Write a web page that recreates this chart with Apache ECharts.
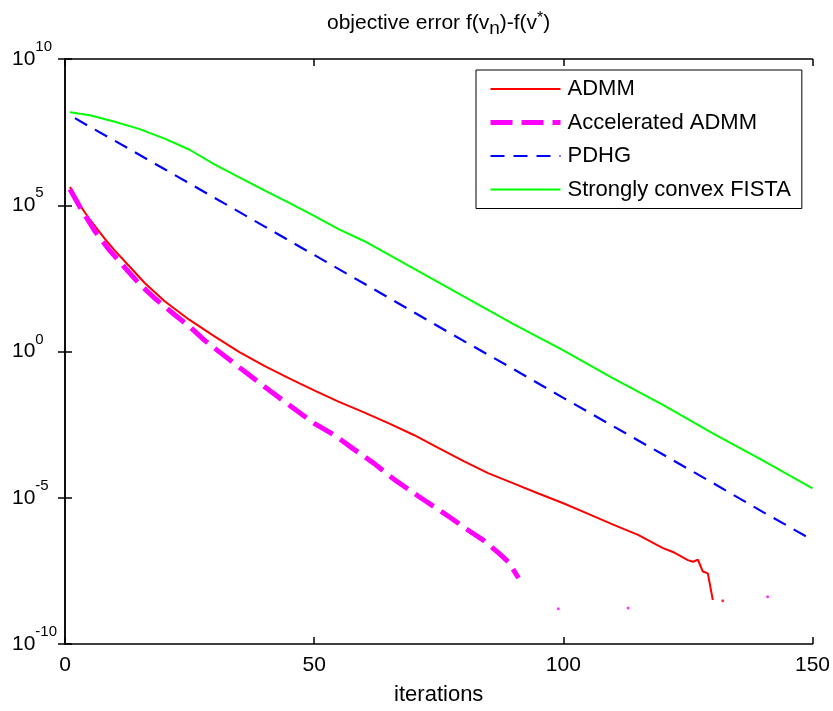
<!DOCTYPE html>
<html><head><meta charset="utf-8">
<script src="https://cdn.jsdelivr.net/npm/echarts@6/dist/echarts.min.js"></script>
<style>html,body{margin:0;padding:0;background:#fff}#c{width:833px;height:711px}</style>
</head><body><div id="c"></div>
<script>
// ---- data ----
const xTicks = [0, 50, 100, 150];
const yTickExponents = [-10, -5, 0, 5, 10];
const seriesNames = ['ADMM', 'Accelerated ADMM', 'PDHG', 'Strongly convex FISTA'];

const admmIter = [1, 3, 5, 8, 10, 13, 16, 20, 25, 30, 35, 40, 45, 50, 55, 60, 65, 70, 75, 80, 85, 90, 95, 100, 105, 110, 115, 120, 122, 124, 125, 126, 127, 128, 129, 130];
const admmErr = [4.2e5, 1.0e5, 3.2e4, 7.1e3, 2.8e3, 7.9e2, 2.2e2, 52, 12, 3.3, 0.95, 0.32, 0.12, 4.7e-2, 1.9e-2, 8.3e-3, 3.5e-3, 1.4e-3, 5.0e-4, 1.8e-4, 6.8e-5, 3.1e-5, 1.4e-5, 6.5e-6, 2.8e-6, 1.2e-6, 5.4e-7, 1.9e-7, 1.4e-7, 9.1e-8, 7.4e-8, 6.5e-8, 7.6e-8, 3.0e-8, 2.6e-8, 3.2e-9];
const admmDotIter = [132];
const admmDotErr = [3.0e-9];

const accIter = [1, 3, 6, 9, 12, 15, 18, 22, 25, 28, 32, 36, 41, 46, 50, 54, 58, 62, 66, 71, 76, 81, 84, 87, 89, 90, 91];
const accErr = [3.5e5, 8.7e4, 1.3e4, 2.8e3, 7.4e2, 2.0e2, 66, 18, 7.1, 2.4, 0.71, 0.21, 4.7e-2, 1.1e-2, 3.5e-3, 1.4e-3, 4.5e-4, 1.5e-4, 4.3e-5, 1.1e-5, 3.0e-6, 7.6e-7, 3.5e-7, 1.3e-7, 6.3e-8, 3.4e-8, 1.8e-8];
const accDotIter = [99, 113, 141];
const accDotErr = [1.6e-9, 1.7e-9, 4.1e-9];

const pdhgIter = [2, 5, 10, 20, 30, 40, 50, 60, 70, 80, 90, 100, 110, 120, 130, 140, 150];
const pdhgErr = [9.5e7, 4.8e7, 1.6e7, 1.7e6, 1.8e5, 1.9e4, 2.0e3, 2.1e2, 22, 2.3, 0.25, 2.6e-2, 2.8e-3, 3.0e-4, 3.2e-5, 3.3e-6, 3.6e-7];

const fistaIter = [1, 5, 10, 15, 20, 25, 30, 35, 40, 45, 50, 55, 60, 70, 80, 90, 100, 110, 120, 130, 140, 150];
const fistaErr = [1.5e8, 1.2e8, 7.2e7, 4.0e7, 1.9e7, 7.9e6, 2.5e6, 9.0e5, 3.2e5, 1.2e5, 4.3e4, 1.5e4, 6.0e3, 6.8e2, 76, 8.7, 1.1, 0.12, 1.5e-2, 1.6e-3, 1.9e-4, 2.1e-5];

// ---- chart ----
const FONT = '"Liberation Sans", Arial, sans-serif';
const zip = (xs, ys) => xs.map((x, i) => [x, ys[i]]);
const yMin = Math.pow(10, yTickExponents[0]);
const yMax = Math.pow(10, yTickExponents[yTickExponents.length - 1]);
const yStep = yTickExponents[1] - yTickExponents[0];
const xStep = xTicks[1] - xTicks[0];

const frameLine = { show: true, lineStyle: { color: '#000', width: 1.5 } };
const inTick = { show: true, inside: true, length: 7, lineStyle: { color: '#000', width: 1.5 } };

const chart = echarts.init(document.getElementById('c'), null, { renderer: 'canvas' });
chart.setOption({
  animation: false,
  backgroundColor: '#fff',
  title: {
    text: '{a|objective error f(v}{sub|n}{a|)-f(v}{sup|*}{a|)}',
    left: 327, top: 9, padding: 0,
    textStyle: {
      fontWeight: 'normal',
      rich: {
        a: { fontSize: 21, fontFamily: FONT, color: '#000', fontWeight: 'normal' },
        sub: { fontSize: 19, fontFamily: FONT, color: '#000', fontWeight: 'normal', padding: [10, 0, 0, 0] },
        sup: { fontSize: 16, fontFamily: FONT, color: '#000', fontWeight: 'normal', padding: [0, 0, 10, 0] }
      }
    }
  },
  grid: { left: 65, right: 20, top: 59, bottom: 67, containLabel: false },
  legend: {
    data: seriesNames,
    orient: 'vertical',
    left: 476, top: 70,
    padding: [8, 11, 8, 12],
    itemWidth: 70, itemHeight: 14, itemGap: 11.5,
    borderColor: '#000', borderWidth: 1, backgroundColor: '#fff',
    selectedMode: false,
    itemStyle: { opacity: 0 },
    lineStyle: { width: 'inherit', type: 'inherit' },
    textStyle: { fontSize: 22, fontFamily: FONT, color: '#000', lineHeight: 22, padding: [0, 0, 0, 2] }
  },
  xAxis: [
    {
      type: 'value', min: xTicks[0], max: xTicks[xTicks.length - 1], interval: xStep,
      position: 'bottom',
      name: 'iterations', nameLocation: 'middle', nameGap: 40,
      nameTextStyle: { fontSize: 22, fontFamily: FONT, color: '#000' },
      axisLine: frameLine, axisTick: inTick, splitLine: { show: false },
      axisLabel: { fontSize: 21, fontFamily: FONT, color: '#000', margin: 11 }
    },
    {
      type: 'value', min: xTicks[0], max: xTicks[xTicks.length - 1], interval: xStep,
      position: 'top',
      axisLine: frameLine, axisTick: inTick, splitLine: { show: false },
      axisLabel: { show: false }
    }
  ],
  yAxis: [
    {
      type: 'log', logBase: 10, min: yMin, max: yMax, interval: yStep,
      position: 'left',
      axisLine: frameLine, axisTick: inTick, splitLine: { show: false }, minorTick: { show: false },
      axisLabel: {
        align: 'left', margin: 53,
        formatter: v => '{b|10}{s|' + Math.round(Math.log10(v)) + '}',
        rich: {
          b: { fontSize: 21, fontFamily: FONT, color: '#000' },
          s: { fontSize: 15, fontFamily: FONT, color: '#000', padding: [0, 0, 24, 0] }
        }
      }
    },
    {
      type: 'log', logBase: 10, min: yMin, max: yMax, interval: yStep,
      position: 'right',
      axisLine: frameLine, axisTick: inTick, splitLine: { show: false },
      axisLabel: { show: false }
    }
  ],
  series: [
    { name: seriesNames[0], type: 'line', data: zip(admmIter, admmErr), symbol: 'none',
      lineStyle: { color: '#ff0000', width: 2 }, itemStyle: { color: '#ff0000' } },
    { name: seriesNames[1], type: 'line', data: zip(accIter, accErr), symbol: 'none',
      lineStyle: { color: '#ff00ff', width: 5, type: [22, 9] }, itemStyle: { color: '#ff00ff' } },
    { name: seriesNames[2], type: 'line', data: zip(pdhgIter, pdhgErr), symbol: 'none',
      lineStyle: { color: '#0000ff', width: 2.2, type: [14, 9] }, itemStyle: { color: '#0000ff' } },
    { name: seriesNames[3], type: 'line', data: zip(fistaIter, fistaErr), symbol: 'none',
      lineStyle: { color: '#00ff00', width: 2 }, itemStyle: { color: '#00ff00' } },
    { name: 'ADMM points', type: 'scatter', data: zip(admmDotIter, admmDotErr), symbolSize: 3,
      itemStyle: { color: '#ff0000' }, silent: true },
    { name: 'Accelerated ADMM points', type: 'scatter', data: zip(accDotIter, accDotErr), symbolSize: 3,
      itemStyle: { color: '#ff00ff' }, silent: true }
  ]
});
</script></body></html>
